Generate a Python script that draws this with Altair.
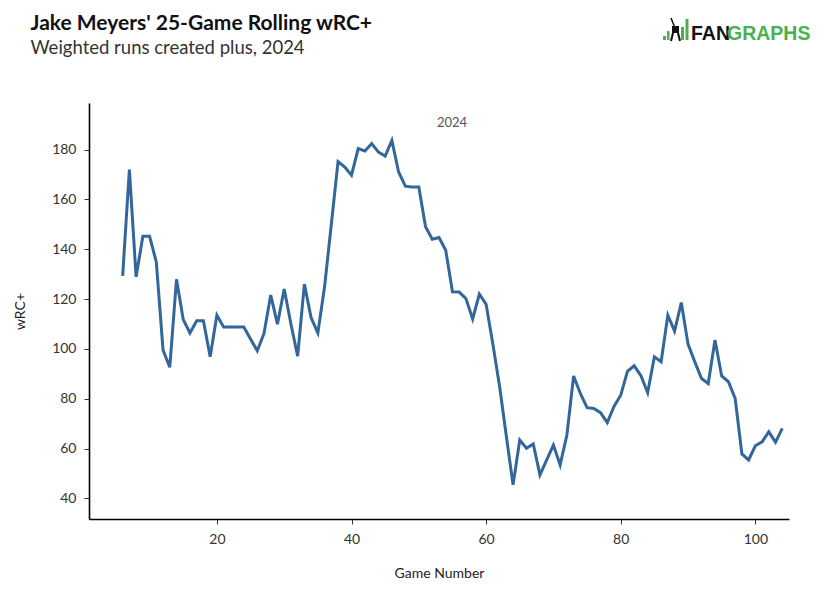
import altair as alt
import pandas as pd

# ---- data ----
games = list(range(6, 105))
wrc_plus = [
    129.3, 172.0, 128.9, 145.2, 145.2, 134.9, 99.5, 92.6, 127.9, 111.8,   # 6-15
    106.4, 111.3, 111.3, 96.8, 113.5, 108.8, 108.8, 108.8, 108.8, 104.0,  # 16-25
    99.2, 106.2, 121.6, 109.9, 124.0, 110.0, 97.1, 126.0, 112.5, 106.4,   # 26-35
    124.9, 150.0, 175.2, 173.0, 169.7, 180.4, 179.4, 182.4, 179.0, 177.4, # 36-45
    183.7, 171.0, 165.3, 165.0, 165.0, 149.0, 144.0, 144.7, 139.6, 122.9, # 46-55
    122.8, 120.2, 112.0, 122.0, 117.9, 102.0, 85.0, 65.0, 45.4, 63.4,     # 56-65
    60.1, 61.8, 49.4, 55.4, 61.4, 53.4, 65.4, 89.1, 82.1, 76.4,           # 66-75
    76.1, 74.4, 70.4, 76.9, 81.4, 91.0, 93.2, 89.2, 82.4, 96.8,           # 76-85
    94.8, 113.5, 107.1, 118.6, 101.9, 94.8, 88.1, 86.1, 103.5, 89.1,      # 86-95
    86.8, 80.1, 57.8, 55.4, 61.1, 62.7, 66.7, 62.5, 68.1,                 # 96-104
]
x_ticks = [20, 40, 60, 80, 100]
y_ticks = [40, 60, 80, 100, 120, 140, 160, 180]
x_domain = [1, 105]
y_domain = [31.7, 198.7]

title_text = "Jake Meyers' 25-Game Rolling wRC+"
subtitle_text = "Weighted runs created plus, 2024"
season_label = "2024"

df = pd.DataFrame({"Game": games, "wRC+": wrc_plus})

W, H = 700, 416
OX, OY = 89, 103  # plot origin on the page


def one(label):
    return pd.DataFrame({"label": [label]})


line = alt.Chart(df).mark_line(color="#33669b", strokeWidth=3).encode(
    x=alt.X(
        "Game:Q",
        scale=alt.Scale(domain=x_domain, nice=False, zero=False),
        axis=alt.Axis(values=x_ticks, title="Game Number", titlePadding=20),
    ),
    y=alt.Y(
        "wRC+:Q",
        scale=alt.Scale(domain=y_domain, nice=False, zero=False),
        axis=alt.Axis(values=y_ticks, title="wRC+", titlePadding=24),
    ),
)


def text_layer(label, x, y, size, color, weight="normal", font="Lato", align="left", baseline="alphabetic"):
    return alt.Chart(one(label)).mark_text(
        font=font, fontSize=size, fontWeight=weight, color=color,
        align=align, baseline=baseline,
    ).encode(text="label:N", x=alt.value(x - OX), y=alt.value(y - OY))


title = text_layer(title_text, 30.5, 29.5, 21, "#111111", weight="bold")
subtitle = text_layer(subtitle_text, 30.5, 54, 18.5, "#333333")
season = text_layer(season_label, 452, 123, 13, "#555555", align="center", baseline="middle")

logo_fan = text_layer("FAN", 691, 40, 19.5, "#111111", weight="bold", font="Liberation Sans")
logo_graphs = text_layer("GRAPHS", 727, 40, 19.5, "#4caf50", weight="bold", font="Liberation Sans")


def rect(x1, x2, y1, y2, color):
    return alt.Chart(one("r")).mark_rect(color=color).encode(
        x=alt.value(x1 - OX), x2=alt.value(x2 - OX),
        y=alt.value(y1 - OY), y2=alt.value(y2 - OY),
    )


def rule(x1, x2, y1, y2, color, w):
    return alt.Chart(one("r")).mark_rule(color=color, strokeWidth=w).encode(
        x=alt.value(x1 - OX), x2=alt.value(x2 - OX),
        y=alt.value(y1 - OY), y2=alt.value(y2 - OY),
    )


icon = [
    rect(663, 666, 36, 40, "#4caf50"),
    rect(667, 669.5, 31, 40, "#4caf50"),
    rule(671, 675, 18, 28, "#111111", 1.5),
    rect(672, 679, 26, 33, "#111111"),
    rule(673, 671, 33, 41, "#111111", 2),
    rule(678, 680, 33, 41, "#111111", 2),
    rect(681, 684, 27, 40, "#4caf50"),
    rect(685.5, 688.5, 19, 40, "#4caf50"),
]

chart = alt.layer(line, season, title, subtitle, logo_fan, logo_graphs, *icon).properties(
    width=W,
    height=H,
    autosize=alt.AutoSizeParams(type="none"),
    padding={"left": OX - 8, "top": OY - 8, "right": 25, "bottom": 60},
).configure_view(stroke=None).configure_axis(
    grid=False,
    domainColor="#000000",
    domainWidth=1.6,
    tickColor="#333333",
    tickSize=5,
    labelPadding=8,
    labelFont="Lato",
    labelFontSize=14,
    labelColor="#333333",
    titleFont="Lato",
    titleFontSize=14,
    titleFontWeight="normal",
    titleColor="#222222",
)

chart.save("out.html", embed_options={"renderer": "svg", "actions": False})
